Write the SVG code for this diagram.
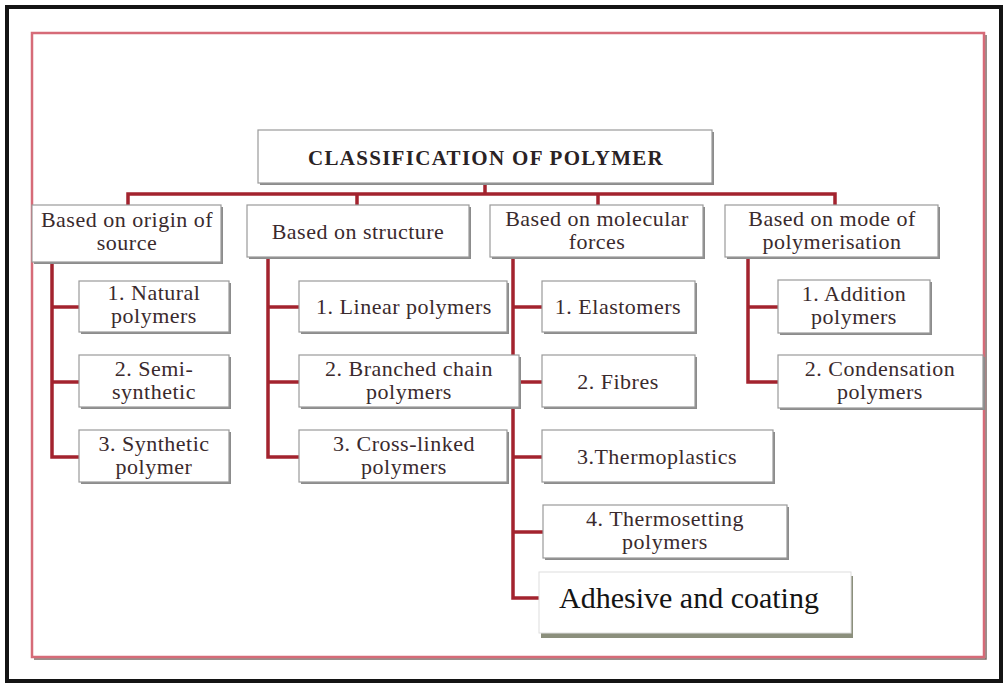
<svg xmlns="http://www.w3.org/2000/svg" width="1005" height="684" viewBox="0 0 1005 684">
  <style>
    .frame { fill: #ffffff; stroke: #141414; stroke-width: 4; }
    .panel { fill: #ffffff; stroke: #d66b78; stroke-width: 2.5; }
    .panel-shadow { fill: none; stroke: #7a6a66; stroke-width: 1.5; }
    .box { fill: #ffffff; stroke: #9a9a9a; stroke-width: 1.2; }
    .shadow { fill: #8c8c8c; }
    .link { fill: none; stroke: #a3232e; stroke-width: 3.5; stroke-linejoin: miter; }
    text { font-family: 'Liberation Serif', 'DejaVu Serif', serif; }
    .t { font-size: 22px; letter-spacing: 0.5px; fill: #3a2a2d; text-anchor: middle; }
    .title { font-size: 21px; letter-spacing: 1.3px; font-weight: bold; fill: #2a2224; text-anchor: middle; }
    .big { font-size: 30px; fill: #141414; text-anchor: middle; }
  </style>

  <!-- outer frame and inner panel -->
  <rect class="frame" x="7" y="7" width="994" height="674"/>
  <polyline class="panel-shadow" points="986,35 986,659 34,659"/>
  <rect class="panel" x="32" y="33" width="952" height="624"/>

  <!-- connectors -->
  <g id="connectors">
    <polyline class="link" points="485,183 485,194"/>
    <polyline class="link" points="128,205 128,194 835,194 835,205"/>
    <polyline class="link" points="357,194 357,205"/>
    <polyline class="link" points="598,194 598,205"/>
    <!-- origin of source -->
    <polyline class="link" points="52,262 52,457 79,457"/>
    <polyline class="link" points="52,307 79,307"/>
    <polyline class="link" points="52,382 79,382"/>
    <!-- structure -->
    <polyline class="link" points="268,257 268,457 299,457"/>
    <polyline class="link" points="268,307 299,307"/>
    <polyline class="link" points="268,382 299,382"/>
    <!-- molecular forces -->
    <polyline class="link" points="513,257 513,598 539,598"/>
    <polyline class="link" points="513,307 542,307"/>
    <polyline class="link" points="513,382 542,382"/>
    <polyline class="link" points="513,457 542,457"/>
    <polyline class="link" points="513,532 543,532"/>
    <!-- mode of polymerisation -->
    <polyline class="link" points="748,257 748,382 778,382"/>
    <polyline class="link" points="748,307 778,307"/>
  </g>

  <g id="root">
    <rect class="shadow" x="260" y="132" width="454" height="53"/>
    <rect class="box" x="258" y="130" width="454" height="53"/>
    <text class="title" x="486" y="165">CLASSIFICATION OF POLYMER</text>
  </g>

  <g id="origin">
    <rect class="shadow" x="34" y="207" width="189" height="57"/>
    <rect class="box" x="32" y="205" width="189" height="57"/>
    <text class="t" x="127" y="227">Based on origin of</text>
    <text class="t" x="127" y="250">source</text>
  </g>
  <g id="structure">
    <rect class="shadow" x="249" y="207" width="222" height="52"/>
    <rect class="box" x="247" y="205" width="222" height="52"/>
    <text class="t" x="358" y="239">Based on structure</text>
  </g>
  <g id="molecular">
    <rect class="shadow" x="492" y="207" width="213" height="52"/>
    <rect class="box" x="490" y="205" width="213" height="52"/>
    <text class="t" x="597" y="226">Based on molecular</text>
    <text class="t" x="597" y="249">forces</text>
  </g>
  <g id="mode">
    <rect class="shadow" x="727" y="207" width="213" height="52"/>
    <rect class="box" x="725" y="205" width="213" height="52"/>
    <text class="t" x="832" y="226">Based on mode of</text>
    <text class="t" x="832" y="249">polymerisation</text>
  </g>

  <g id="natural">
    <rect class="shadow" x="81" y="283" width="150" height="51"/>
    <rect class="box" x="79" y="281" width="150" height="51"/>
    <text class="t" x="154" y="300">1. Natural</text>
    <text class="t" x="154" y="323">polymers</text>
  </g>
  <g id="semi">
    <rect class="shadow" x="81" y="357" width="150" height="52"/>
    <rect class="box" x="79" y="355" width="150" height="52"/>
    <text class="t" x="154" y="376">2. Semi-</text>
    <text class="t" x="154" y="399">synthetic</text>
  </g>
  <g id="synthetic">
    <rect class="shadow" x="81" y="432" width="150" height="52"/>
    <rect class="box" x="79" y="430" width="150" height="52"/>
    <text class="t" x="154" y="451">3. Synthetic</text>
    <text class="t" x="154" y="474">polymer</text>
  </g>

  <g id="linear">
    <rect class="shadow" x="301" y="283" width="208" height="51"/>
    <rect class="box" x="299" y="281" width="208" height="51"/>
    <text class="t" x="404" y="314">1. Linear polymers</text>
  </g>
  <g id="branched">
    <rect class="shadow" x="301" y="357" width="220" height="52"/>
    <rect class="box" x="299" y="355" width="220" height="52"/>
    <text class="t" x="409" y="376">2. Branched chain</text>
    <text class="t" x="409" y="399">polymers</text>
  </g>
  <g id="crosslinked">
    <rect class="shadow" x="301" y="432" width="208" height="52"/>
    <rect class="box" x="299" y="430" width="208" height="52"/>
    <text class="t" x="404" y="451">3. Cross-linked</text>
    <text class="t" x="404" y="474">polymers</text>
  </g>

  <g id="elastomers">
    <rect class="shadow" x="544" y="283" width="153" height="51"/>
    <rect class="box" x="542" y="281" width="153" height="51"/>
    <text class="t" x="618" y="314">1. Elastomers</text>
  </g>
  <g id="fibres">
    <rect class="shadow" x="544" y="357" width="153" height="52"/>
    <rect class="box" x="542" y="355" width="153" height="52"/>
    <text class="t" x="618" y="389">2. Fibres</text>
  </g>
  <g id="thermoplastics">
    <rect class="shadow" x="544" y="432" width="231" height="52"/>
    <rect class="box" x="542" y="430" width="231" height="52"/>
    <text class="t" x="657" y="464">3.Thermoplastics</text>
  </g>
  <g id="thermosetting">
    <rect class="shadow" x="545" y="507" width="244" height="53"/>
    <rect class="box" x="543" y="505" width="244" height="53"/>
    <text class="t" x="665" y="526">4. Thermosetting</text>
    <text class="t" x="665" y="549">polymers</text>
  </g>
  <g id="adhesive">
    <rect x="541" y="576" width="312" height="62" fill="#8b8f7c"/>
    <rect x="539" y="572" width="312" height="61" fill="#ffffff" stroke="#dedede" stroke-width="1"/>
    <text class="big" x="689" y="608">Adhesive and coating</text>
  </g>

  <g id="addition">
    <rect class="shadow" x="780" y="282" width="152" height="53"/>
    <rect class="box" x="778" y="280" width="152" height="53"/>
    <text class="t" x="854" y="301">1. Addition</text>
    <text class="t" x="854" y="324">polymers</text>
  </g>
  <g id="condensation">
    <rect class="shadow" x="780" y="357" width="205" height="53"/>
    <rect class="box" x="778" y="355" width="205" height="53"/>
    <text class="t" x="880" y="376">2. Condensation</text>
    <text class="t" x="880" y="399">polymers</text>
  </g>
</svg>
